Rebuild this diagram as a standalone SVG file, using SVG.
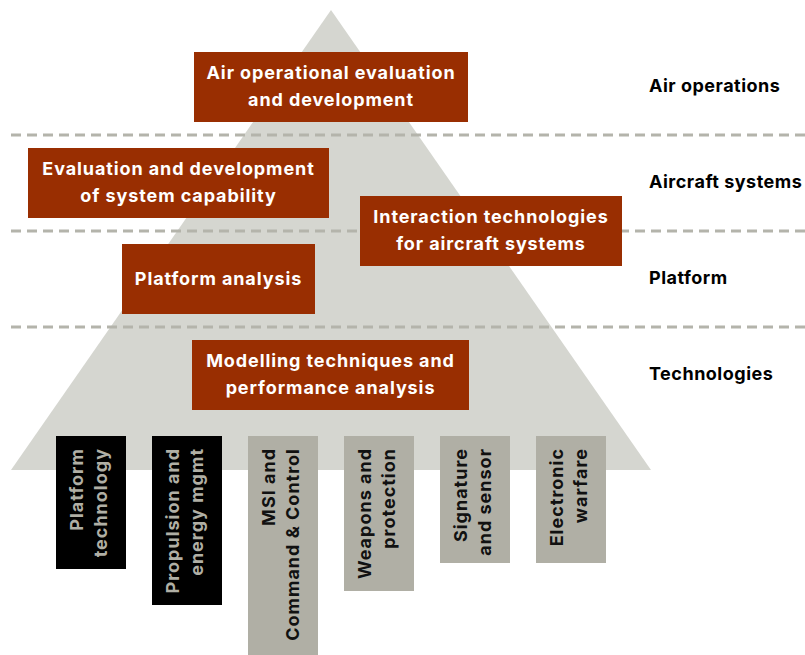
<svg xmlns="http://www.w3.org/2000/svg" width="805" height="655" viewBox="0 0 805 655">
<style>
.tri{fill:#d5d6d0}
.dash{stroke:#b4b4ab;stroke-width:3;stroke-dasharray:10 6;fill:none}
.box{fill:#992e01}
.bt{font-family:Inter,"DejaVu Sans",sans-serif;font-weight:700;font-size:18px;letter-spacing:0.9px;fill:#ffffff;text-anchor:middle}
.lab{font-family:Inter,"DejaVu Sans",sans-serif;font-weight:700;font-size:18px;letter-spacing:0.5px;fill:#000000}
.colb{fill:#000000}
.colg{fill:#b0afa5}
.ct{font-family:Inter,"DejaVu Sans",sans-serif;font-weight:700;font-size:18px;letter-spacing:1px;text-anchor:end}
.ctl{fill:#b0afa5}
.ctd{fill:#111111}
</style>
<rect width="805" height="655" fill="#ffffff"/>
<polygon class="tri" points="331,10 11,470 651,470"/>
<g id="connectors">
<line class="dash" x1="11" y1="135" x2="805" y2="135"/>
<line class="dash" x1="11" y1="231" x2="805" y2="231"/>
<line class="dash" x1="11" y1="327" x2="805" y2="327"/>
</g>
<g id="n-air-eval">
<rect class="box" x="194" y="52" width="274" height="70"/>
<text class="bt" x="331" y="79">Air operational evaluation</text>
<text class="bt" x="331" y="106">and development</text>
</g>
<g id="n-sys-cap">
<rect class="box" x="28" y="148" width="301" height="70"/>
<text class="bt" x="178.5" y="175">Evaluation and development</text>
<text class="bt" x="178.5" y="202">of system capability</text>
</g>
<g id="n-interaction">
<rect class="box" x="360" y="196" width="262" height="70"/>
<text class="bt" x="491" y="223">Interaction technologies</text>
<text class="bt" x="491" y="250">for aircraft systems</text>
</g>
<g id="n-platform-analysis">
<rect class="box" x="122" y="244" width="193" height="70"/>
<text class="bt" x="218.5" y="285">Platform analysis</text>
</g>
<g id="n-modelling">
<rect class="box" x="192" y="340" width="277" height="70"/>
<text class="bt" x="330.5" y="367">Modelling techniques and</text>
<text class="bt" x="330.5" y="394">performance analysis</text>
</g>
<g id="l-air-ops"><text class="lab" x="649" y="92">Air operations</text></g>
<g id="l-aircraft-sys"><text class="lab" x="649" y="188">Aircraft systems</text></g>
<g id="l-platform"><text class="lab" x="649" y="284">Platform</text></g>
<g id="l-technologies"><text class="lab" x="649" y="380">Technologies</text></g>
<g id="c-platform-tech">
<rect class="colb" x="56" y="436" width="70" height="133"/>
<text class="ct ctl" transform="translate(83,448) rotate(-90)">Platform</text>
<text class="ct ctl" transform="translate(107,448) rotate(-90)">technology</text>
</g>
<g id="c-propulsion">
<rect class="colb" x="152" y="436" width="70" height="169"/>
<text class="ct ctl" transform="translate(179,448) rotate(-90)">Propulsion and</text>
<text class="ct ctl" transform="translate(203,448) rotate(-90)">energy mgmt</text>
</g>
<g id="c-msi">
<rect class="colg" x="248" y="436" width="70" height="219"/>
<text class="ct ctd" transform="translate(275,448) rotate(-90)">MSI and</text>
<text class="ct ctd" transform="translate(299,448) rotate(-90)">Command &amp; Control</text>
</g>
<g id="c-weapons">
<rect class="colg" x="344" y="436" width="70" height="155"/>
<text class="ct ctd" transform="translate(371,448) rotate(-90)">Weapons and</text>
<text class="ct ctd" transform="translate(395,448) rotate(-90)">protection</text>
</g>
<g id="c-signature">
<rect class="colg" x="440" y="436" width="70" height="127"/>
<text class="ct ctd" transform="translate(467,448) rotate(-90)">Signature</text>
<text class="ct ctd" transform="translate(491,448) rotate(-90)">and sensor</text>
</g>
<g id="c-ew">
<rect class="colg" x="536" y="436" width="70" height="127"/>
<text class="ct ctd" transform="translate(563,448) rotate(-90)">Electronic</text>
<text class="ct ctd" transform="translate(587,448) rotate(-90)">warfare</text>
</g>
</svg>
